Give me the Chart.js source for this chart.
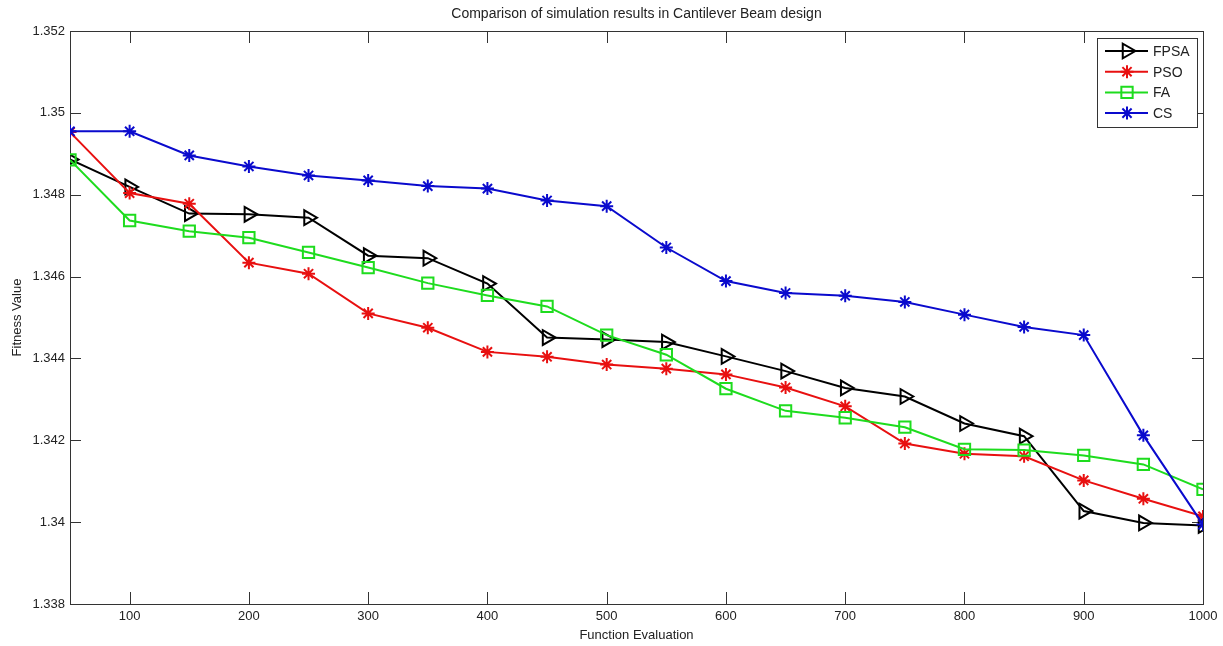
<!DOCTYPE html>
<html>
<head>
<meta charset="utf-8">
<script src="https://cdn.jsdelivr.net/npm/chart.js@4.4.1/dist/chart.umd.min.js"></script>
<style>
  html, body { margin: 0; padding: 0; background: #fff; }
  #wrap { width: 1223px; height: 646px; }
</style>
</head>
<body>
<div id="wrap"><canvas id="beamChart"></canvas></div>
<script>
const evaluations = [50, 100, 150, 200, 250, 300, 350, 400, 450, 500, 550, 600, 650, 700, 750, 800, 850, 900, 950, 1000];
const fpsaValues = [1.34886, 1.34819, 1.34754, 1.34752, 1.34744, 1.34651, 1.34645, 1.34583, 1.34451, 1.34446, 1.3444, 1.34405, 1.34369, 1.34328, 1.34307, 1.34241, 1.3421, 1.34027, 1.33998, 1.33992];
const psoValues = [1.34953, 1.34804, 1.34778, 1.34634, 1.34607, 1.3451, 1.34475, 1.34416, 1.34404, 1.34385, 1.34375, 1.34361, 1.34329, 1.34283, 1.34192, 1.34167, 1.34161, 1.34102, 1.34057, 1.34014];
const faValues = [1.34885, 1.34737, 1.34711, 1.34695, 1.34659, 1.34622, 1.34584, 1.34554, 1.34527, 1.34457, 1.34409, 1.34326, 1.34272, 1.34255, 1.34232, 1.34178, 1.34176, 1.34163, 1.34141, 1.3408];
const csValues = [1.34955, 1.34955, 1.34896, 1.34869, 1.34847, 1.34835, 1.34821, 1.34815, 1.34786, 1.34772, 1.34671, 1.34589, 1.3456, 1.34553, 1.34538, 1.34507, 1.34477, 1.34457, 1.34212, 1.33994];
const seriesNames = ['FPSA', 'PSO', 'FA', 'CS'];
const xTicks = [100, 200, 300, 400, 500, 600, 700, 800, 900, 1000];
const yTicks = [1.338, 1.34, 1.342, 1.344, 1.346, 1.348, 1.35, 1.352];

const FONT = '"Liberation Sans", Arial, sans-serif';
const TEXT = '#222';

function points(values) {
    return evaluations.map((x, i) => ({ x: x, y: values[i] }));
}

function series(label, values, color, style, radius, rotation, order) {
    return {
        label: label,
        data: points(values),
        borderColor: color,
        borderWidth: 2,
        pointStyle: style,
        pointRadius: radius,
        pointHoverRadius: radius,
        pointRotation: rotation,
        pointBorderColor: color,
        pointBackgroundColor: 'rgba(0,0,0,0)',
        pointBorderWidth: 2,
        tension: 0,
        order: order
    };
}

// axes box, inward ticks, title, axis labels and the legend box
const matlabFrame = {
    id: 'matlabFrame',
    beforeDatasetsDraw(chart) {
        const { ctx, chartArea: a, scales: { x, y } } = chart;
        ctx.save();
        ctx.strokeStyle = '#333';
        ctx.lineWidth = 1;
        ctx.strokeRect(a.left + 0.5, a.top + 0.5, a.width, a.height);
        ctx.beginPath();
        xTicks.forEach(v => {
            const px = Math.round(x.getPixelForValue(v)) + 0.5;
            ctx.moveTo(px, a.bottom); ctx.lineTo(px, a.bottom - 12);
            ctx.moveTo(px, a.top); ctx.lineTo(px, a.top + 12);
        });
        yTicks.forEach(v => {
            const py = Math.round(y.getPixelForValue(v)) + 0.5;
            ctx.moveTo(a.left, py); ctx.lineTo(a.left + 11, py);
            ctx.moveTo(a.right, py); ctx.lineTo(a.right - 11, py);
        });
        ctx.stroke();
        ctx.restore();
    },
    afterDraw(chart) {
        const { ctx, chartArea: a } = chart;
        const cx = (a.left + a.right) / 2;
        const cy = (a.top + a.bottom) / 2;
        ctx.save();
        ctx.fillStyle = TEXT;
        ctx.textAlign = 'center';
        ctx.textBaseline = 'middle';
        ctx.font = '14px ' + FONT;
        ctx.fillText('Comparison of simulation results in Cantilever Beam design', cx, 14);
        ctx.font = '13px ' + FONT;
        ctx.fillText('Function Evaluation', cx, 635);
        ctx.save();
        ctx.translate(17, cy);
        ctx.rotate(-Math.PI / 2);
        ctx.fillText('Fitness Value', 0, 0);
        ctx.restore();

        // legend
        const lx = 1097, ly = 38, lw = 100, lh = 89;
        ctx.fillStyle = '#fff';
        ctx.fillRect(lx, ly, lw, lh);
        ctx.strokeStyle = '#333';
        ctx.lineWidth = 1;
        ctx.strokeRect(lx + 0.5, ly + 0.5, lw, lh);
        ctx.textAlign = 'left';
        ctx.font = '14px ' + FONT;
        chart.data.datasets.forEach((ds, i) => {
            const ry = ly + 13 + i * 20.7;
            ctx.strokeStyle = ds.borderColor;
            ctx.lineWidth = 2;
            ctx.beginPath();
            ctx.moveTo(lx + 8, ry); ctx.lineTo(lx + 51, ry);
            ctx.stroke();
            ctx.fillStyle = 'rgba(0,0,0,0)';
            Chart.helpers.drawPoint(ctx, {
                pointStyle: ds.pointStyle,
                radius: ds.pointRadius,
                rotation: ds.pointRotation,
                borderWidth: ds.pointBorderWidth
            }, lx + 30, ry);
            ctx.fillStyle = TEXT;
            ctx.fillText(ds.label, lx + 56, ry + 1);
        });
        ctx.restore();
    }
};

new Chart(document.getElementById('beamChart'), {
    type: 'line',
    data: {
        datasets: [
            series(seriesNames[0], fpsaValues, '#000000', 'triangle', 8.5, 90, 3),
            series(seriesNames[1], psoValues, 'rgb(232,16,16)', 'star', 6.5, 0, 2),
            series(seriesNames[2], faValues, 'rgb(30,220,30)', 'rect', 8, 0, 1),
            series(seriesNames[3], csValues, 'rgb(10,10,205)', 'star', 6.5, 0, 0)
        ]
    },
    options: {
        responsive: true,
        maintainAspectRatio: false,
        animation: false,
        layout: { padding: { top: 31, right: 20, left: 0, bottom: 0 } },
        plugins: {
            legend: { display: false },
            tooltip: { enabled: false },
            title: { display: false }
        },
        scales: {
            x: {
                type: 'linear',
                min: 50,
                max: 1000,
                grid: { display: false, drawTicks: false },
                border: { display: false },
                afterBuildTicks: s => { s.ticks = xTicks.map(v => ({ value: v })); },
                afterFit: s => { s.height = 42; },
                ticks: {
                    padding: 5,
                    color: TEXT,
                    font: { family: FONT, size: 13 },
                    maxRotation: 0,
                    callback: v => String(v)
                }
            },
            y: {
                min: 1.338,
                max: 1.352,
                grid: { display: false, drawTicks: false },
                border: { display: false },
                afterBuildTicks: s => { s.ticks = yTicks.map(v => ({ value: v })); },
                afterFit: s => { s.width = 70; },
                ticks: {
                    padding: 5,
                    color: TEXT,
                    font: { family: FONT, size: 13 },
                    callback: v => String(+Number(v).toFixed(3))
                }
            }
        }
    },
    plugins: [matlabFrame]
});
</script>
</body>
</html>
